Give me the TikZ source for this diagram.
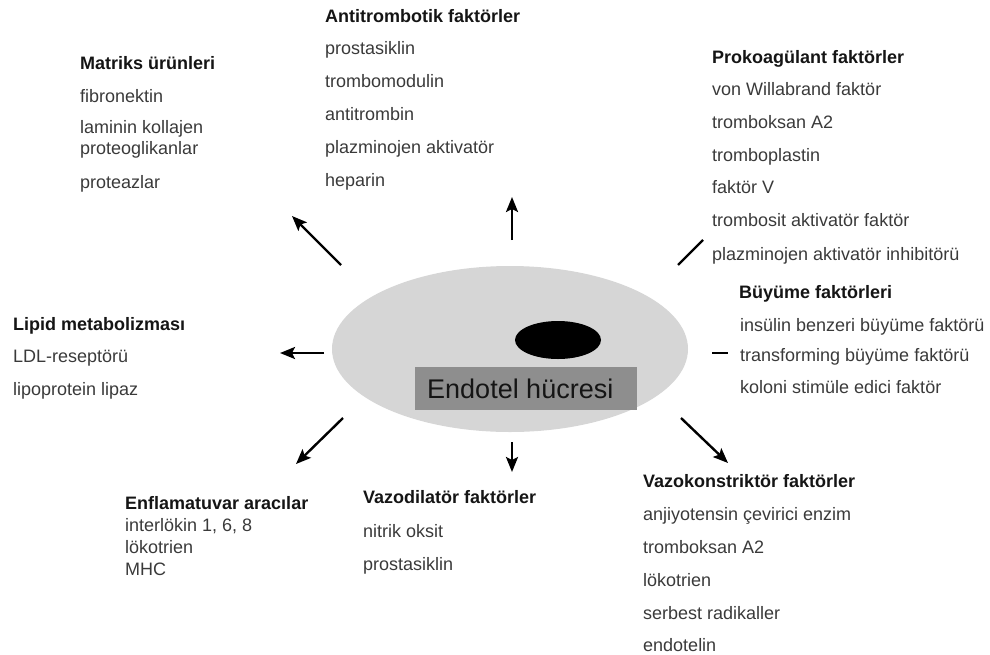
\documentclass[tikz,border=0pt]{standalone}
\usepackage{fontspec}
\setmainfont{Liberation Sans}
\usetikzlibrary{arrows.meta,shapes.geometric}
\definecolor{celltone}{HTML}{D6D6D6}
\definecolor{boxtone}{HTML}{8E8E8E}
\definecolor{bodytext}{HTML}{3A3A3A}
\definecolor{headtext}{HTML}{151515}
\begin{document}
\begin{tikzpicture}[x=1pt,y=-1pt,
  hd/.style={anchor=base west,inner sep=0pt,font=\fontsize{18}{20}\selectfont\bfseries,text=headtext},
  it/.style={anchor=base west,inner sep=0pt,font=\fontsize{18}{20}\selectfont,text=bodytext},
  arr/.style={line width=2.4pt,-{Stealth[length=15pt,width=12pt,inset=3pt]}},
  tick/.style={line width=2.4pt}]
\useasboundingbox (0,0) rectangle (990,654);

% cell
\node[ellipse,fill=celltone,draw=none,minimum width=356pt,minimum height=166pt,inner sep=0pt] (cell) at (510,349) {};
\node[ellipse,fill=black,draw=none,minimum width=86pt,minimum height=38pt,inner sep=0pt] (nucleus) at (558,340) {};
\node[rectangle,fill=boxtone,draw=none,minimum width=222pt,minimum height=43pt,inner sep=0pt] (cellbox) at (526,388.5) {};
\node[anchor=base west,inner sep=0pt,font=\fontsize{27}{30}\selectfont,text=headtext] (celltext) at (427,398) {Endotel hücresi};

% Matriks ürünleri
\node[hd] (m0) at (80,69) {Matriks ürünleri};
\node[it] (m1) at (80,102) {fibronektin};
\node[it] (m2) at (80,133) {laminin kollajen};
\node[it] (m3) at (80,154) {proteoglikanlar};
\node[it] (m4) at (80,188) {proteazlar};

% Antitrombotik faktörler
\node[hd] (a0) at (325,22) {Antitrombotik faktörler};
\node[it] (a1) at (325,54) {prostasiklin};
\node[it] (a2) at (325,87) {trombomodulin};
\node[it] (a3) at (325,120) {antitrombin};
\node[it] (a4) at (325,153) {plazminojen aktivatör};
\node[it] (a5) at (325,186) {heparin};

% Prokoagülant faktörler
\node[hd] (p0) at (712,63) {Prokoagülant faktörler};
\node[it] (p1) at (712,95) {von Willabrand faktör};
\node[it] (p2) at (712,128) {tromboksan A2};
\node[it] (p3) at (712,161) {tromboplastin};
\node[it] (p4) at (712,193) {faktör V};
\node[it] (p5) at (712,226) {trombosit aktivatör faktör};
\node[it] (p6) at (712,260) {plazminojen aktivatör inhibitörü};

% Büyüme faktörleri
\node[hd] (b0) at (739,298) {Büyüme faktörleri};
\node[it] (b1) at (740,331) {insülin benzeri büyüme faktörü};
\node[it] (b2) at (740,361) {transforming büyüme faktörü};
\node[it] (b3) at (740,393) {koloni stimüle edici faktör};

% Lipid metabolizması
\node[hd] (l0) at (13,330) {Lipid metabolizması};
\node[it] (l1) at (13,362) {LDL-reseptörü};
\node[it] (l2) at (13,395) {lipoprotein lipaz};

% Enflamatuvar aracılar
\node[hd] (e0) at (125,509) {Enflamatuvar aracılar};
\node[it] (e1) at (125,531) {interlökin 1, 6, 8};
\node[it] (e2) at (125,553) {lökotrien};
\node[it] (e3) at (125,575) {MHC};

% Vazodilatör faktörler
\node[hd] (d0) at (363,503) {Vazodilatör faktörler};
\node[it] (d1) at (363,537) {nitrik oksit};
\node[it] (d2) at (363,570) {prostasiklin};

% Vazokonstriktör faktörler
\node[hd] (k0) at (643,487) {Vazokonstriktör faktörler};
\node[it] (k1) at (643,520) {anjiyotensin çevirici enzim};
\node[it] (k2) at (643,553) {tromboksan A2};
\node[it] (k3) at (643,586) {lökotrien};
\node[it] (k4) at (643,619) {serbest radikaller};
\node[it] (k5) at (643,651) {endotelin};

% arrow end points
\coordinate (upS) at (512,240);   \coordinate (upE) at (512,197);
\coordinate (ulS) at (341,265);   \coordinate (ulE) at (292,216);
\coordinate (urS) at (678,265);   \coordinate (urE) at (703,240);
\coordinate (rS) at (712,353);    \coordinate (rE) at (728,353);
\coordinate (lS) at (324,353);    \coordinate (lE) at (280,353);
\coordinate (llS) at (343,418);   \coordinate (llE) at (296,464);
\coordinate (dS) at (512,442);    \coordinate (dE) at (512,472);
\coordinate (lrS) at (681,418);   \coordinate (lrE) at (728,463);

\draw[arr] (upS) -- (upE);
\draw[arr] (ulS) -- (ulE);
\draw[tick] (urS) -- (urE);
\draw[tick] (rS) -- (rE);
\draw[arr] (lS) -- (lE);
\draw[arr] (llS) -- (llE);
\draw[arr] (dS) -- (dE);
\draw[arr] (lrS) -- (lrE);
\end{tikzpicture}
\end{document}
